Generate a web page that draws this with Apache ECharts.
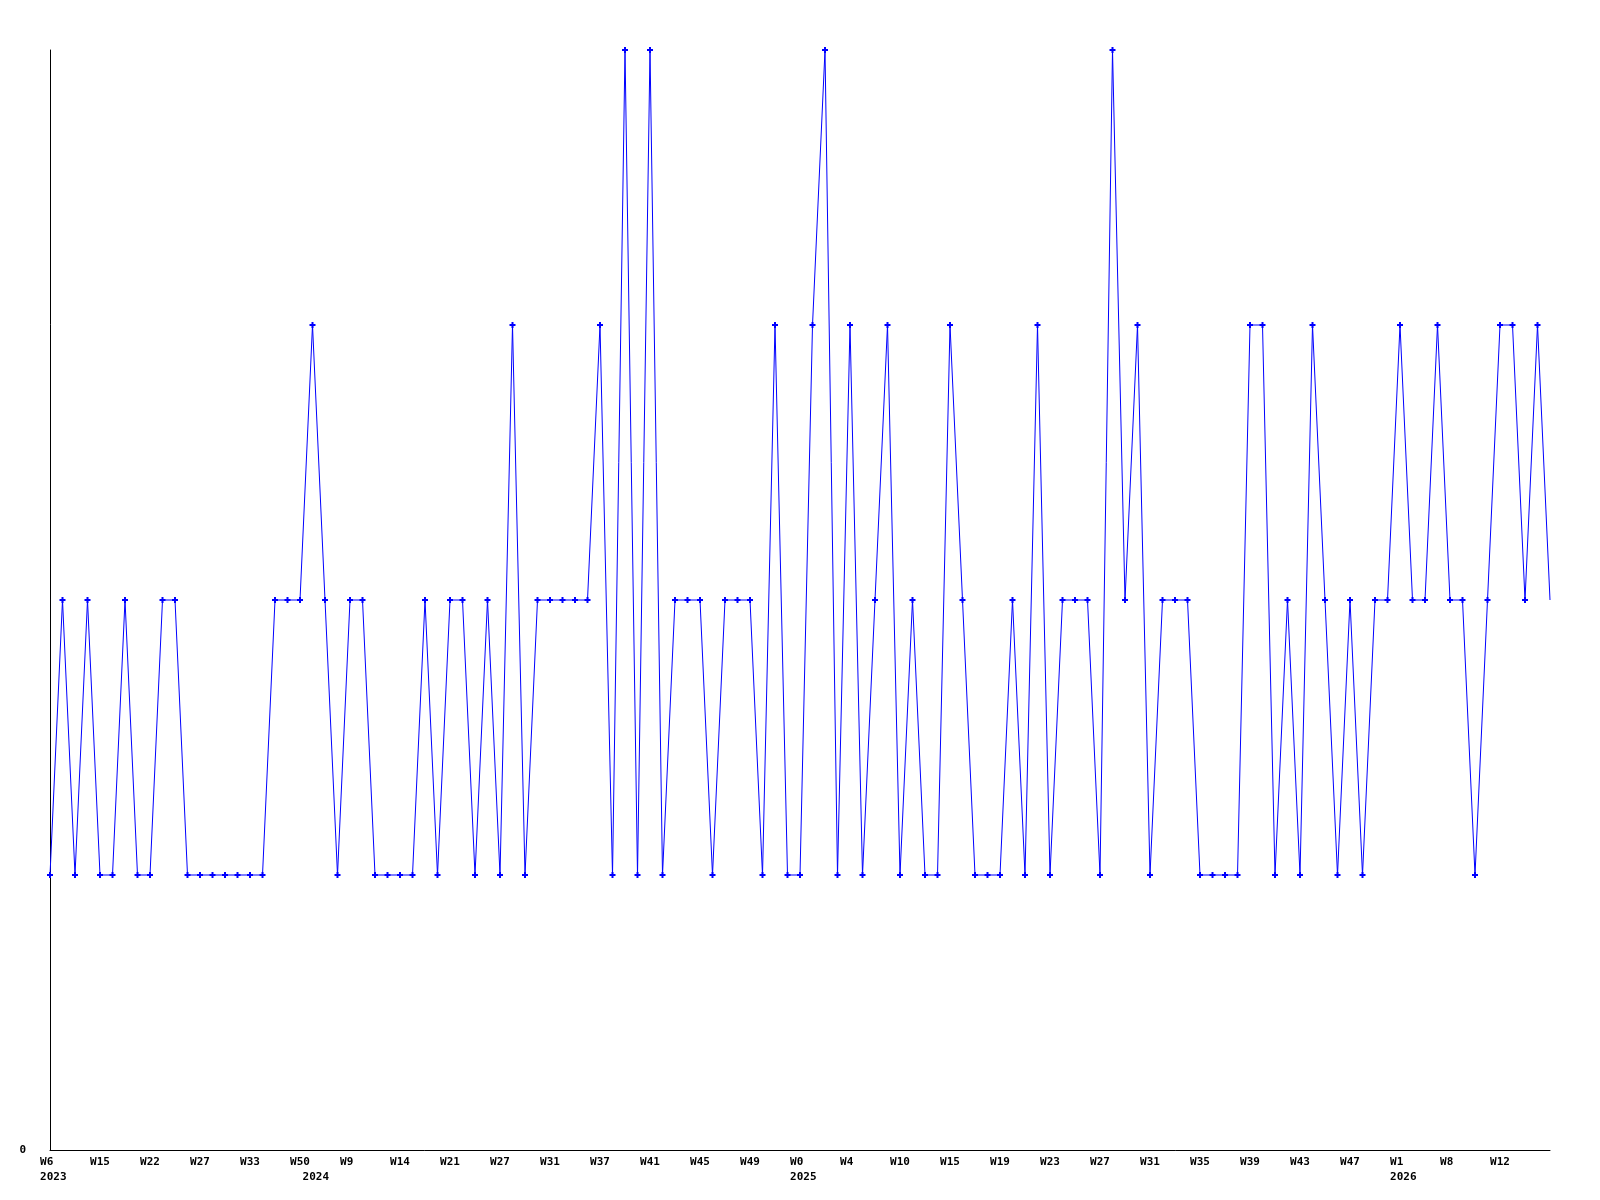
<!DOCTYPE html>
<html>
<head>
<meta charset="utf-8">
<script src="https://cdn.jsdelivr.net/npm/echarts@6/dist/echarts.min.js"></script>
<style>
  html, body { margin: 0; padding: 0; background: #fff; }
  #chart { width: 1600px; height: 1200px; }
</style>
</head>
<body>
<div id="chart"></div>
<script>
// one value per week
const counts = [
  1, 2, 1, 2, 1, 1, 2, 1, 1, 2,
  2, 1, 1, 1, 1, 1, 1, 1, 2, 2,
  2, 3, 2, 1, 2, 2, 1, 1, 1, 1,
  2, 1, 2, 2, 1, 2, 1, 3, 1, 2,
  2, 2, 2, 2, 3, 1, 4, 1, 4, 1,
  2, 2, 2, 1, 2, 2, 2, 1, 3, 1,
  1, 3, 4, 1, 3, 1, 2, 3, 1, 2,
  1, 1, 3, 2, 1, 1, 1, 2, 1, 3,
  1, 2, 2, 2, 1, 4, 2, 3, 1, 2,
  2, 2, 1, 1, 1, 1, 3, 3, 1, 2,
  1, 3, 2, 1, 2, 1, 2, 2, 3, 2,
  2, 3, 2, 2, 1, 2, 3, 3, 2, 3,
  2
]

// week labels shown under every 4th point
const weekTicks = [
  'W6', 'W15', 'W22', 'W27', 'W33', 'W50', 'W9', 'W14', 'W21', 'W27',
  'W31', 'W37', 'W41', 'W45', 'W49', 'W0', 'W4', 'W10', 'W15', 'W19',
  'W23', 'W27', 'W31', 'W35', 'W39', 'W43', 'W47', 'W1', 'W8', 'W12'
]
const tickStep = 4

// year labels, at the first point of each year
const yearIndex = [0, 21, 60, 108]
const yearLabels = ['2023', '2024', '2025', '2026']

const categories = counts.map((_, i) => String(i))

function weekAt(idx) {
  if (idx % tickStep !== 0) return null
  return weekTicks[idx / tickStep] || null
}

const chart = echarts.init(document.getElementById('chart'))

const labelFont = { fontFamily: 'DejaVu Sans Mono', fontSize: 11, fontWeight: 'bold', color: '#000' }

chart.setOption({
  animation: false,
  backgroundColor: '#fff',
  grid: { left: 50, right: 50, top: 50, bottom: 50 },
  xAxis: {
    type: 'category',
    data: categories,
    boundaryGap: false,
    axisLine: { lineStyle: { color: '#000', width: 1 } },
    axisTick: { show: false },
    splitLine: { show: false },
    axisLabel: {
      ...labelFont,
      margin: 5,
      lineHeight: 15,
      align: 'center',
      interval: (idx) => weekAt(idx) !== null || yearIndex.includes(idx),
      formatter: (val) => {
        const idx = Number(val)
        let week = weekAt(idx) || ''
        if (week.length < 3) week += ' '
        const y = yearIndex.indexOf(idx)
        return y >= 0 ? week + '\n ' + yearLabels[y] : week
      }
    }
  },
  yAxis: {
    type: 'value',
    min: 0,
    max: 4,
    interval: 4,
    axisLine: { show: true, lineStyle: { color: '#000', width: 1 } },
    axisTick: { show: false },
    splitLine: { show: false },
    axisLabel: {
      ...labelFont,
      margin: 24,
      formatter: (v) => (v === 0 ? '0' : '')
    }
  },
  series: [
    {
      type: 'line',
      data: counts.map((v, i) => (i === counts.length - 1 ? { value: v, symbol: 'none' } : v)),
      symbol: 'path://M2,0H4V2H6V4H4V6H2V4H0V2H2Z',
      symbolSize: 6,
      showAllSymbol: true,
      itemStyle: { color: '#0000ff' },
      lineStyle: { color: '#0000ff', width: 1 }
    }
  ]
})
</script>
</body>
</html>
